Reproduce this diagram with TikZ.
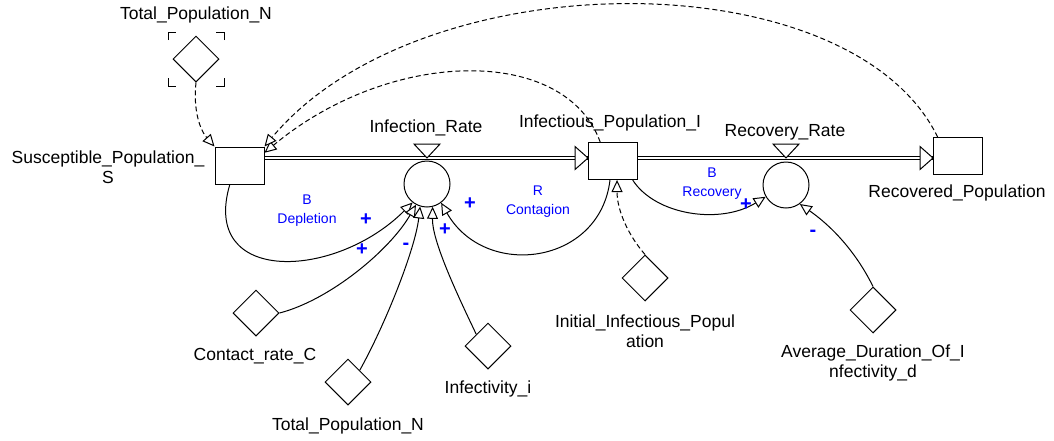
\documentclass[tikz,border=0pt]{standalone}
\usepackage{fontspec}
\setmainfont{Liberation Sans}
\usetikzlibrary{arrows.meta, shapes.geometric}

\tikzset{
  stock/.style={draw, line width=1pt, minimum width=49pt, minimum height=37pt, inner sep=0pt},
  auxv/.style={draw, diamond, aspect=1, line width=1pt, minimum width=46pt, minimum height=46pt, inner sep=0pt},
  rate/.style={draw, circle, line width=1pt, minimum size=46pt, inner sep=0pt},
  varname/.style={font=\fontsize{17.5}{20}\selectfont, align=center, inner sep=0pt},
  loopname/.style={text=blue, font=\fontsize{14}{19}\selectfont, align=center, inner sep=0pt},
  polarity/.style={text=blue, font=\fontsize{20}{20}\selectfont\bfseries, inner sep=0pt},
  link/.style={line width=1pt, -{Triangle[fill=white, length=12pt, width=11pt]}},
  info/.style={link, dash pattern=on 5pt off 3pt},
  pipe/.style={double, double distance=2.5pt, line width=1pt},
}

\begin{document}
\begin{tikzpicture}[x=1pt, y=-1pt]
  \useasboundingbox (0,0) rectangle (1054,440);
  % stocks
  \node[stock] (sus) at (239.5,165.5) {};
  \node[stock] (inf) at (613,161) {};
  \node[stock] (rec) at (958,156) {};
  % rates
  \node[rate] (irate) at (427,184) {};
  \node[rate] (rrate) at (786,185) {};
  % auxiliaries
  \node[auxv] (totn) at (196,59) {};
  \node[auxv] (contact) at (256,313) {};
  \node[auxv] (totnb) at (348,382) {};
  \node[auxv] (infect) at (488,346) {};
  \node[auxv] (initi) at (645,278) {};
  \node[auxv] (avgd) at (873,310) {};
  % ghost corners
  \foreach \sx/\sy in {-1/-1, 1/-1, -1/1, 1/1}
    \draw[line width=1pt] ([shift={(\sx*28,\sy*19)}]totn.center) -- ++(0,\sy*8) -- ++(-\sx*8,0);

  % names
  \node[varname] (totn-n) at (196,15) {Total\_Population\_N};
  \node[varname] (sus-n) at (108,167) {Susceptible\_Population\_\\S};
  \node[varname] (irate-n) at (426,128) {Infection\_Rate};
  \node[varname] (inf-n) at (610,123) {Infectious\_Population\_I};
  \node[varname] (rrate-n) at (785,132) {Recovery\_Rate};
  \node[varname] (rec-n) at (957,193) {Recovered\_Population};
  \node[varname] (contact-n) at (255,356) {Contact\_rate\_C};
  \node[varname] (totnb-n) at (348,426) {Total\_Population\_N};
  \node[varname] (infect-n) at (488,389) {Infectivity\_i};
  \node[varname] (initi-n) at (645,331) {Initial\_Infectious\_Popul\\ation};
  \node[varname] (avgd-n) at (873,363) {Average\_Duration\_Of\_I\\nfectivity\_d};

  % flows
  \coordinate (pipe) at (0,158);
  \draw[pipe] (sus.east |- pipe) -- (inf.west |- pipe);
  \draw[pipe] (inf.east |- pipe) -- (rec.west |- pipe);
  \foreach \s in {inf, rec}
    \draw[line width=1pt, fill=white] (\s.west |- pipe) -- ++(-13,-11.5) -- ++(0,23) -- cycle;
  \foreach \r in {irate, rrate}
    \draw[line width=1pt, fill=white] (\r.north |- pipe) -- ++(-13,-14) -- ++(26,0) -- cycle;

  % links
  \draw[link] (sus.-117) .. controls (200,285) and (335,280) .. (irate.-128);
  \draw[link] (contact.east) .. controls (330,300) and (390,250) .. (irate.-118);
  \draw[link] (totnb.north east) .. controls (385,325) and (415,250) .. (irate.-107);
  \draw[link] (infect.north west) .. controls (455,290) and (432,240) .. (irate.-76);
  \draw[link] (inf.-99) .. controls (600,265) and (485,280) .. (irate.-53);
  \draw[link] (inf.-44) .. controls (655,215) and (720,225) .. (rrate.-150);
  \draw[link] (avgd.north) .. controls (855,250) and (830,225) .. (rrate.-54);
  \draw[info] (initi.north) .. controls (628,235) and (617,210) .. (inf.-78);
  \draw[info] (totn.south) .. controls (193,110) and (200,130) .. (sus.north west);
  \draw[info] (inf.124) .. controls (565,45) and (390,48) .. (sus.27);
  \draw[info] (rec.137) .. controls (850,-42) and (420,-40) .. (sus.north east);

  % loops and polarities
  \node[loopname] (depl) at (307,211) {B\\Depletion};
  \node[loopname] (cont) at (538,202) {R\\Contagion};
  \node[loopname] (reco) at (712,184) {B\\Recovery};
  \node[polarity] (p1) at (366,220) {+};
  \node[polarity] (p2) at (362,250) {+};
  \node[polarity] (p3) at (406,246) {-};
  \node[polarity] (p4) at (445,230) {+};
  \node[polarity] (p5) at (470,204) {+};
  \node[polarity] (p6) at (746,205) {+};
  \node[polarity] (p7) at (813,233) {-};
\end{tikzpicture}
\end{document}
